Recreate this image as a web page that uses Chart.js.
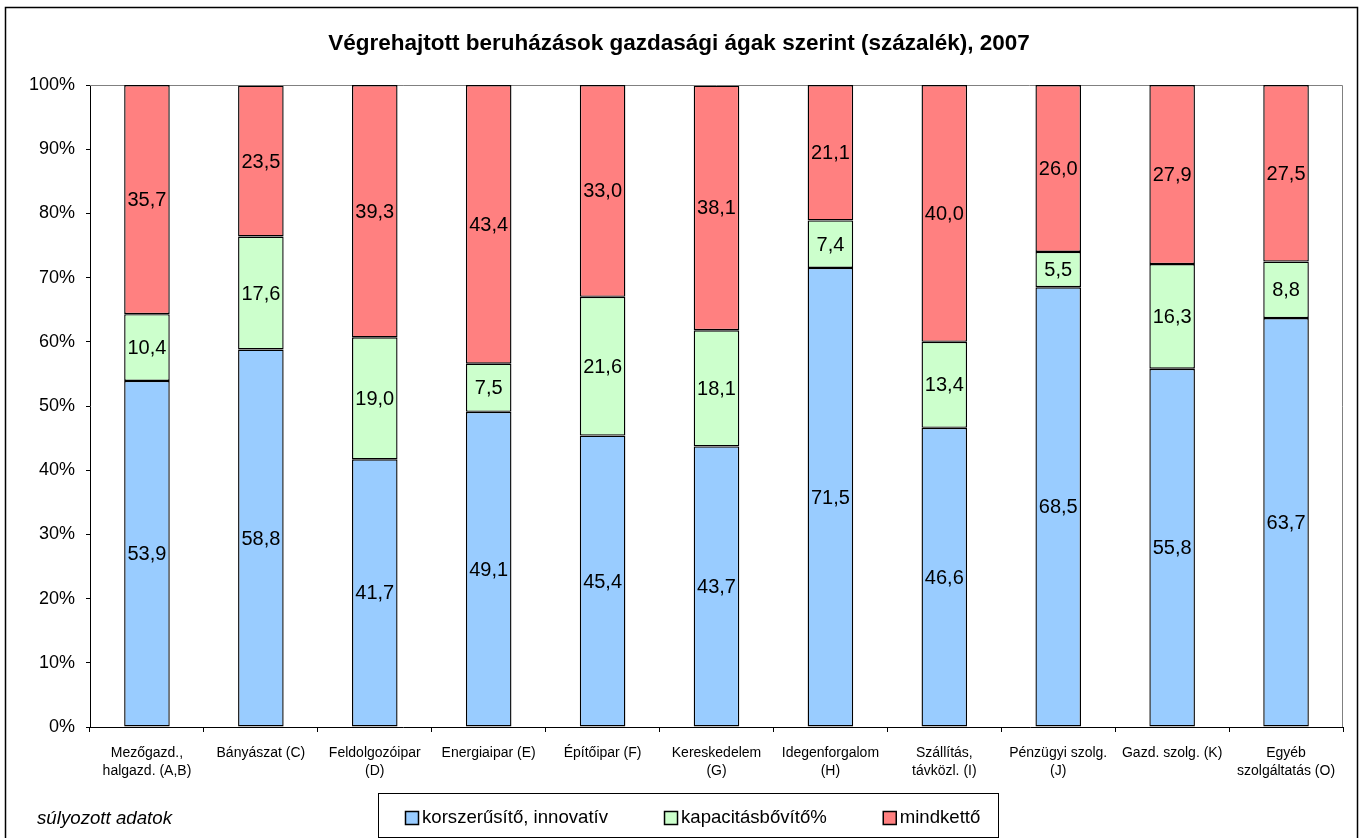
<!DOCTYPE html>
<html>
<head>
<meta charset="utf-8">
<title>Végrehajtott beruházások gazdasági ágak szerint</title>
<script src="https://cdn.jsdelivr.net/npm/chart.js@4/dist/chart.umd.min.js"></script>
<style>
  html, body { margin: 0; padding: 0; background: #fff; }
  #wrap { position: relative; width: 1362px; height: 838px; }
</style>
</head>
<body>
<div id="wrap"><canvas id="myChart" width="1362" height="838"></canvas></div>
<script>
const FONT = "'Liberation Sans', Arial, Helvetica, sans-serif"

// Gazdasági ágak (two-line labels where the original wraps)
const agak = [
  ["Mezőgazd.,", "halgazd. (A,B)"],
  ["Bányászat (C)"],
  ["Feldolgozóipar", "(D)"],
  ["Energiaipar (E)"],
  ["Építőipar (F)"],
  ["Kereskedelem", "(G)"],
  ["Idegenforgalom", "(H)"],
  ["Szállítás,", "távközl. (I)"],
  ["Pénzügyi szolg.", "(J)"],
  ["Gazd. szolg. (K)"],
  ["Egyéb", "szolgáltatás (O)"]
]

// percentages per branch
const korszerusito = [53.9, 58.8, 41.7, 49.1, 45.4, 43.7, 71.5, 46.6, 68.5, 55.8, 63.7]
const kapacitas    = [10.4, 17.6, 19.0, 7.5, 21.6, 18.1, 7.4, 13.4, 5.5, 16.3, 8.8]
const mindketto    = [35.7, 23.5, 39.3, 43.4, 33.0, 38.1, 21.1, 40.0, 26.0, 27.9, 27.5]

const seriesNames = ["korszerűsítő, innovatív", "kapacitásbővítő%", "mindkettő"]
const seriesColors = ["#99CCFF", "#CCFFCC", "#FF8080"]

const chartTitle = "Végrehajtott beruházások gazdasági ágak szerint (százalék), 2007"
const footNote = "súlyozott adatok"

// plot area edges
const PLOT = { left: 90, right: 1343, top: 85, bottom: 727 }

function fmt(v) {
  return v.toFixed(1).replace(".", ",")
}

// outer frame + gray plot border
const framePlugin = {
  id: "frame",
  beforeDraw(chart) {
    const ctx = chart.ctx
    ctx.save()
    ctx.fillStyle = "#fff"
    ctx.fillRect(0, 0, chart.width, chart.height)
    ctx.strokeStyle = "#000"
    ctx.lineWidth = 1.5
    ctx.strokeRect(5.5, 7.5, 1352, 850)
    ctx.restore()
  },
  beforeDatasetsDraw(chart) {
    const a = chart.chartArea
    const ctx = chart.ctx
    ctx.save()
    ctx.strokeStyle = "#808080"
    ctx.lineWidth = 1
    ctx.beginPath()
    ctx.moveTo(a.left, a.top + 0.5)
    ctx.lineTo(a.right - 0.5, a.top + 0.5)
    ctx.lineTo(a.right - 0.5, a.bottom)
    ctx.stroke()
    ctx.restore()
  }
}

// value in the middle of each segment
const valueLabels = {
  id: "valueLabels",
  afterDatasetsDraw(chart) {
    const ctx = chart.ctx
    ctx.save()
    ctx.font = "20px " + FONT
    ctx.fillStyle = "#000"
    ctx.textAlign = "center"
    ctx.textBaseline = "middle"
    chart.data.datasets.forEach((ds, i) => {
      chart.getDatasetMeta(i).data.forEach((bar, j) => {
        const y = (bar.y + bar.base) / 2
        ctx.fillText(fmt(ds.data[j]), bar.x, y + 1)
      })
    })
    ctx.restore()
  }
}

// title, boxed legend and footnote
const textPlugin = {
  id: "texts",
  afterDraw(chart) {
    const ctx = chart.ctx
    ctx.save()
    ctx.fillStyle = "#000"
    ctx.textBaseline = "middle"

    ctx.font = "bold 22.5px " + FONT
    ctx.textAlign = "center"
    ctx.fillText(chartTitle, 679, 44)

    ctx.font = "italic 18.7px " + FONT
    ctx.textAlign = "left"
    ctx.fillText(footNote, 37, 819)

    // legend box
    ctx.strokeStyle = "#000"
    ctx.lineWidth = 1
    ctx.strokeRect(378.5, 793.5, 620, 44)

    ctx.font = "18.6px " + FONT
    let x = 405
    chart.data.datasets.forEach(ds => {
      ctx.fillStyle = ds.backgroundColor
      ctx.fillRect(x + 0.5, 811.5, 13, 13)
      ctx.strokeStyle = "#000"
      ctx.lineWidth = 1.5
      ctx.strokeRect(x + 0.5, 811.5, 13, 13)
      ctx.fillStyle = "#000"
      ctx.fillText(ds.label, x + 17, 818)
      x += 17 + ctx.measureText(ds.label).width + 56
    })
    ctx.restore()
  }
}

function makeDataset(i, values) {
  return {
    label: seriesNames[i],
    data: values,
    backgroundColor: seriesColors[i],
    borderColor: "#000",
    borderWidth: 1.4,
    borderSkipped: false,
    barPercentage: 0.4,
    categoryPercentage: 1.0
  }
}

const ctx = document.getElementById("myChart").getContext("2d")
const chart = new Chart(ctx, {
  type: "bar",
  data: {
    labels: agak,
    datasets: [
      makeDataset(0, korszerusito),
      makeDataset(1, kapacitas),
      makeDataset(2, mindketto)
    ]
  },
  plugins: [framePlugin, valueLabels, textPlugin],
  options: {
    responsive: false,
    animation: false,
    devicePixelRatio: 1,
    layout: {
      padding: { left: 0, right: 1362 - PLOT.right, top: PLOT.top, bottom: 838 - PLOT.bottom - 60 }
    },
    plugins: {
      legend: { display: false },
      title: { display: false },
      tooltip: { enabled: false }
    },
    scales: {
      x: {
        stacked: true,
        afterFit(scale) { scale.height = 60 },
        grid: { offset: true, drawOnChartArea: false, tickLength: 5, color: "#000" },
        border: { color: "#000", width: 1 },
        ticks: {
          color: "#000",
          padding: 12,
          maxRotation: 0,
          autoSkip: false,
          font: { family: FONT, size: 14, lineHeight: 1.3 }
        }
      },
      y: {
        stacked: true,
        min: 0,
        max: 100,
        afterFit(scale) { scale.width = PLOT.left },
        grid: { drawOnChartArea: false, tickLength: 4, color: "#000" },
        border: { color: "#000", width: 1 },
        ticks: {
          stepSize: 10,
          color: "#000",
          padding: 11,
          font: { family: FONT, size: 18 },
          callback: v => v + "%"
        }
      }
    }
  }
})
</script>
</body>
</html>
